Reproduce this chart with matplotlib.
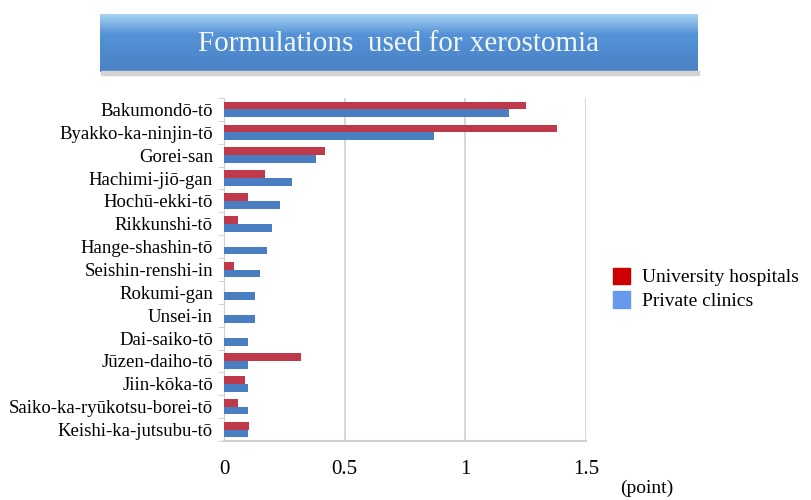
import numpy as np
import matplotlib.pyplot as plt
from matplotlib.patches import Patch

plt.rcParams['font.family'] = ['Liberation Serif', 'DejaVu Serif']

# ---------- Data (points per formulation) ----------
formulations = [
    'Bakumondō-tō', 'Byakko-ka-ninjin-tō', 'Gorei-san', 'Hachimi-jiō-gan',
    'Hochū-ekki-tō', 'Rikkunshi-tō', 'Hange-shashin-tō', 'Seishin-renshi-in',
    'Rokumi-gan', 'Unsei-in', 'Dai-saiko-tō', 'Jūzen-daiho-tō',
    'Jiin-kōka-tō', 'Saiko-ka-ryūkotsu-borei-tō', 'Keishi-ka-jutsubu-tō',
]
university = [1.25, 1.38, 0.42, 0.17, 0.10, 0.06, 0.0, 0.04,
              0.0, 0.0, 0.0, 0.32, 0.085, 0.06, 0.105]
private = [1.18, 0.87, 0.38, 0.28, 0.23, 0.20, 0.18, 0.15,
           0.13, 0.13, 0.10, 0.10, 0.10, 0.10, 0.10]
series_labels = ['University hospitals', 'Private clinics']

RED = '#C0394B'
BLUE = '#4A7EC2'

fig = plt.figure(figsize=(8.12, 5.0), dpi=100)

# ---------- Title banner ----------
# soft shadow under the banner
fig.patches.append(plt.Rectangle((101 / 812, 1 - 75 / 500), 598 / 812, 4 / 500,
                                 transform=fig.transFigure, color='#D4D4D4',
                                 zorder=0))
tax = fig.add_axes([100 / 812, 1 - 72 / 500, 598 / 812, 58 / 500])
grad = np.linspace(0, 1, 100)[:, None]
top = np.array([0.66, 0.83, 0.96])
mid = np.array([0.33, 0.57, 0.84])
bot = np.array([0.29, 0.51, 0.77])
cols = np.where(grad[..., None] < 0.35,
                top + (mid - top) * (grad[..., None] / 0.35),
                mid + (bot - mid) * ((grad[..., None] - 0.35) / 0.65))
tax.imshow(cols, aspect='auto', extent=[0, 1, 0, 1])
tax.set_xlim(0, 1)
tax.set_ylim(0, 1)
tax.axis('off')
tax.text(0.5, 0.48, 'Formulations  used for xerostomia', color='#F2F7FF',
         fontsize=21, ha='center', va='center')

# ---------- Bar chart ----------
ax = fig.add_axes([224 / 812, 1 - 441 / 500, 362 / 812, 343 / 500])
y = np.arange(len(formulations))
h = 0.34
ax.barh(y - h / 2, university, height=h, color=RED, zorder=3)
ax.barh(y + h / 2, private, height=h, color=BLUE, zorder=3)

ax.set_yticks(y)
ax.set_yticklabels(formulations, fontsize=13.5)
ax.set_ylim(len(formulations) - 0.5, -0.5)
ax.set_xlim(0, 1.5)
ax.set_xticks([0, 0.5, 1, 1.5])
ax.set_xticklabels(['0', '0.5', '1', '1.5'], fontsize=15)
ax.tick_params(axis='x', length=0, pad=14)
ax.set_yticks(np.arange(len(formulations) + 1) - 0.5, minor=True)
ax.tick_params(axis='y', which='minor', length=4, color='#D0D0D0')
ax.tick_params(axis='y', which='major', length=0, pad=8)
ax.grid(axis='x', color='#D0D0D0', linewidth=1.2, zorder=0)
for side in ['top', 'right']:
    ax.spines[side].set_visible(False)
ax.spines['left'].set_color('#D0D0D0')
ax.spines['bottom'].set_color('#D0D0D0')
ax.spines['bottom'].set_linewidth(1.5)

fig.text(620 / 812, 1 - 488 / 500, '(point)', fontsize=14, va='center')

handles = [Patch(color='#CC0000'), Patch(color='#6699EE')]
fig.legend(handles, series_labels, loc='upper left',
           bbox_to_anchor=(603 / 812, 1 - 258 / 500), frameon=False,
           fontsize=14, handlelength=0.9, handleheight=0.9,
           handletextpad=0.6, labelspacing=0.25, borderpad=0)

fig.savefig('out.png', dpi=100)
